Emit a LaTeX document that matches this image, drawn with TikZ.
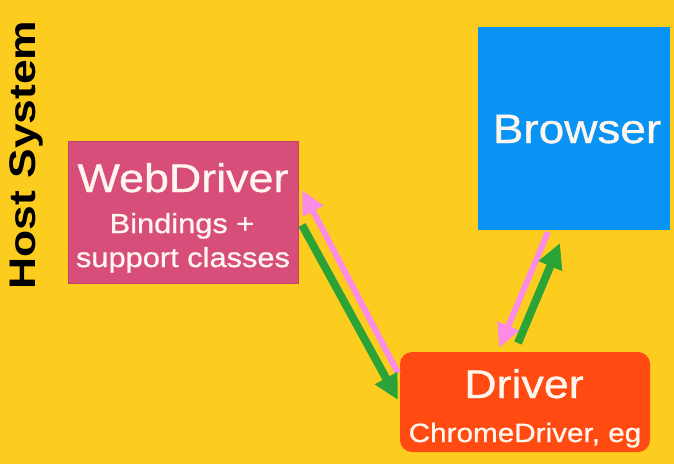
\documentclass[tikz,border=0pt]{standalone}
\usepackage{fontspec}
\usetikzlibrary{arrows.meta,calc}
\newfontfamily\hvfont[FakeStretch=1.12,FakeBold=0.8]{Liberation Sans}
\newfontfamily\hvbold[FakeStretch=1.2]{Liberation Sans Bold}
\definecolor{bgyellow}{HTML}{FCCD1E}
\definecolor{wdpink}{HTML}{D84E7A}
\definecolor{wdedge}{HTML}{C2406A}
\definecolor{brblue}{HTML}{0893F5}
\definecolor{drred}{HTML}{FF4A12}
\definecolor{arpink}{HTML}{FA8CE8}
\definecolor{argreen}{HTML}{2BA337}
\definecolor{txt}{HTML}{FFF6EE}
\tikzset{
  box/.style={draw=none, inner sep=0pt, outer sep=0pt},
  lbl/.style={anchor=base, text=txt, inner sep=0pt},
  pinkarrow/.style={draw=arpink, line width=6pt, -{Triangle[length=24pt,width=22pt]}},
  greenarrow/.style={draw=argreen, line width=8pt, -{Triangle[length=25pt,width=24pt]}},
}
\begin{document}
\begin{tikzpicture}[x=1pt,y=-1pt]
\fill[bgyellow] (0,0) rectangle (674,464);
\useasboundingbox (0,0) rectangle (674,464);

% boxes
\node[box, fill=wdpink, draw=wdedge, line width=1pt, minimum width=230pt, minimum height=142pt] (wd) at (183,212) {};
\node[box, fill=brblue, minimum width=192pt, minimum height=203pt] (br) at (574,128.5) {};
\node[box, fill=drred, rounded corners=12pt, minimum width=250pt, minimum height=100pt] (drv) at (525,402) {};

% texts
\node[lbl, font=\hvfont\fontsize{40}{48}\selectfont] (t1) at (183,192) {WebDriver};
\node[lbl, font=\hvfont\fontsize{27.5}{33}\selectfont] (t2) at (182,233) {Bindings +};
\node[lbl, font=\hvfont\fontsize{27.5}{33}\selectfont] (t3) at (183,267) {support classes};
\node[lbl, font=\hvfont\fontsize{41}{48}\selectfont] (t4) at (577,143) {Browser};
\node[lbl, font=\hvfont\fontsize{40}{48}\selectfont] (t5) at (524,398) {Driver};
\node[lbl, font=\hvfont\fontsize{26.5}{32}\selectfont] (t6) at (525,442) {ChromeDriver, eg};
\node[anchor=base, rotate=90, inner sep=0pt, text=black, font=\hvbold\fontsize{37}{44}\selectfont] (host) at (35,155) {Host System};

% arrows
\draw[pinkarrow] ($(drv.north west)+(-2,21)$) -- ($(wd.north east)+(4,49)$);
\draw[greenarrow] ($(wd.north east)+(4,84)$) -- ($(drv.north west)+(-2,48)$);
\draw[pinkarrow] ($(br.south west)+(70,2)$) -- ($(drv.north west)+(99,-4)$);
\draw[greenarrow] ($(drv.north west)+(118,-9)$) -- ($(br.south west)+(82,13)$);
\end{tikzpicture}
\end{document}
